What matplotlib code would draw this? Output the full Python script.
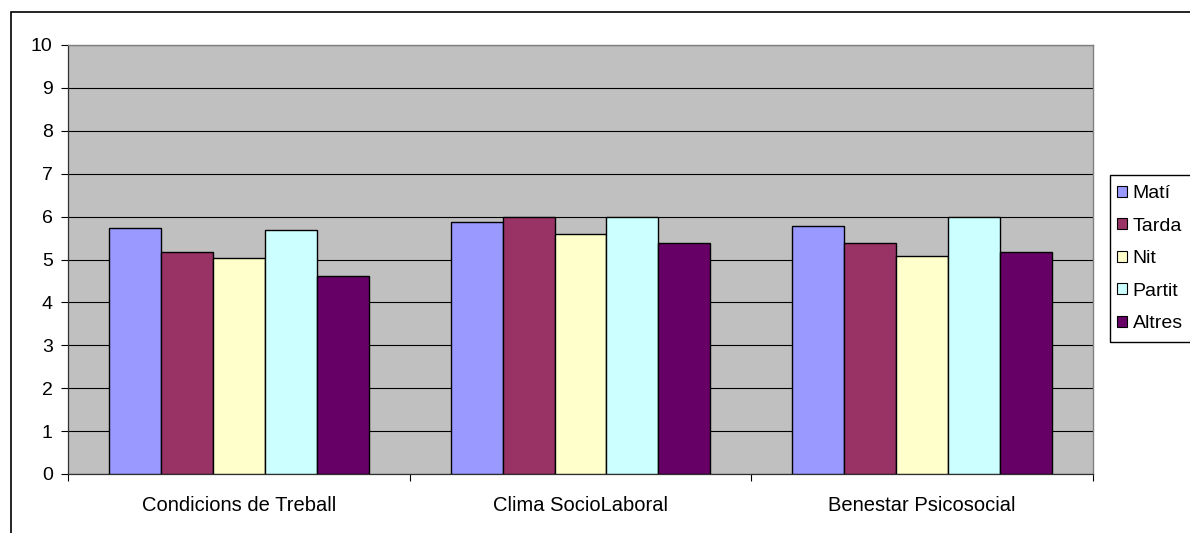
import matplotlib.pyplot as plt
import numpy as np
from matplotlib.patches import Rectangle

plt.rcParams['font.family'] = ['Liberation Sans', 'DejaVu Sans']

categories = ['Condicions de Treball', 'Clima SocioLaboral', 'Benestar Psicosocial']
series = ['Matí', 'Tarda', 'Nit', 'Partit', 'Altres']
mati = [5.73, 5.88, 5.78]
tarda = [5.18, 6.00, 5.38]
nit = [5.03, 5.59, 5.07]
partit = [5.69, 6.00, 6.00]
altres = [4.62, 5.38, 5.18]
colors = ['#9999FF', '#993366', '#FFFFCC', '#CCFFFF', '#660066']

W, H = 1190, 533
fig = plt.figure(figsize=(W / 100, H / 100), dpi=100)
ax = fig.add_axes([68 / W, 1 - 474 / H, 1025 / W, 429 / H])
ax.set_facecolor('#C0C0C0')

x = np.arange(len(categories))
width = 0.152
for i, (vals, name) in enumerate(zip([mati, tarda, nit, partit, altres], series)):
    ax.bar(x + (i - 2) * width, vals, width, color=colors[i], edgecolor='black',
           linewidth=1, label=name, zorder=3)

ax.set_xlim(-0.5, 2.5)
ax.set_ylim(0, 10)
ax.set_yticks(range(0, 11))
ax.yaxis.grid(True, color='black', linewidth=0.8, zorder=1)
ax.set_axisbelow(True)
ax.set_xticks([-0.5, 0.5, 1.5, 2.5])
ax.set_xticklabels([])
ax.set_xticks(x, minor=True)
ax.set_xticklabels(categories, minor=True)
ax.tick_params(axis='x', which='minor', length=0, pad=15.5, labelsize=14.5)
ax.tick_params(axis='x', which='major', length=5, direction='out')
ax.tick_params(axis='y', length=5, direction='out', labelsize=14, pad=6)
for s in ['top', 'right']:
    ax.spines[s].set_color('#808080')
    ax.spines[s].set_linewidth(1)
for s in ['left', 'bottom']:
    ax.spines[s].set_color('#303030')
    ax.spines[s].set_linewidth(0.9)

# legend without its own frame; the box runs past the right edge
leg = fig.legend(loc='upper left', bbox_to_anchor=(1117 / W, 1 - 185 / H),
                 frameon=False, fontsize=14,
                 handlelength=0.5, handleheight=0.5, handletextpad=0.3,
                 labelspacing=0.8, borderpad=0, borderaxespad=0)
for h in leg.legend_handles:
    h.set_linewidth(0.8)
fig.patches.append(Rectangle((1110 / W, 1 - 342 / H), 100 / W, 167 / H,
                             transform=fig.transFigure, fill=False,
                             edgecolor='black', linewidth=1))

# outer chart border
fig.patches.append(Rectangle((11 / W, -10 / H), 1200 / W, (H - 12 + 10) / H,
                             transform=fig.transFigure, fill=False,
                             edgecolor='black', linewidth=1.2))

fig.savefig('out.png', dpi=100)
